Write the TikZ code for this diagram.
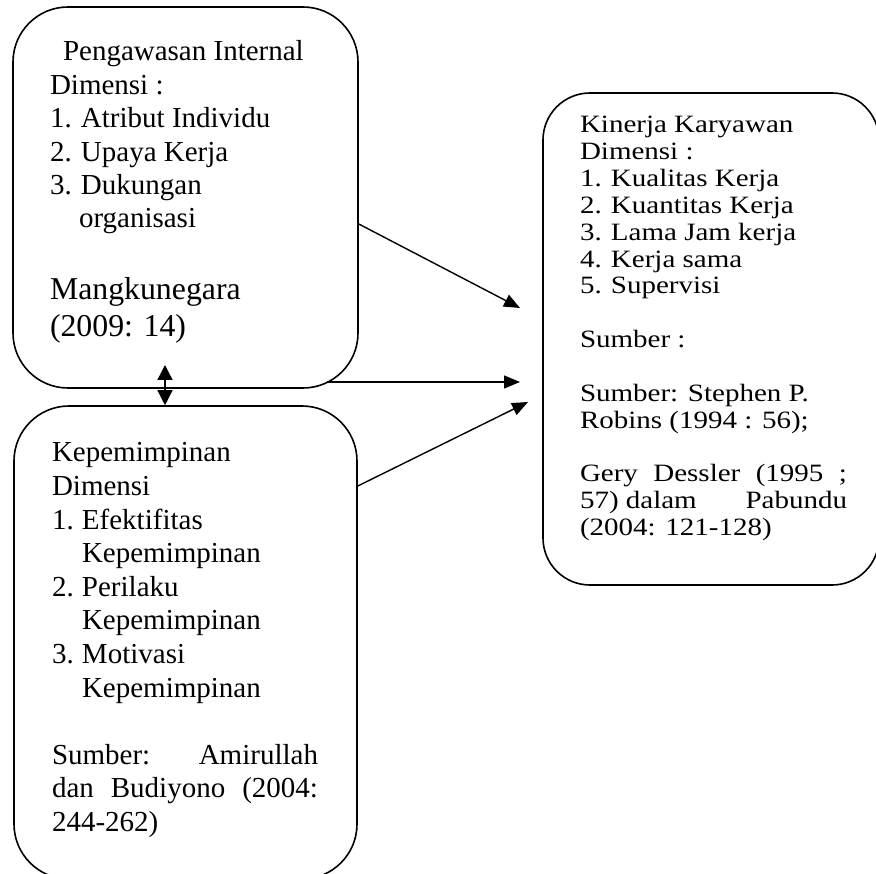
\documentclass[tikz,border=0pt]{standalone}
\usepackage{fontspec}
\setmainfont{Liberation Serif}
\usepackage{graphicx}
\usetikzlibrary{arrows.meta}
\tikzset{
  boxnode/.style={draw, line width=1.6pt, inner sep=0pt, rounded corners=#1},
  conn/.style={line width=1.4pt, -{Triangle[length=16pt,width=13pt]}},
  dconn/.style={line width=1.4pt, {Triangle[length=15pt,width=15pt]}-{Triangle[length=15pt,width=15pt]}},
  txt/.style={anchor=base west, inner sep=0pt, outer sep=0pt}
}
\newcommand{\numit}[1]{\makebox[31pt][l]{#1}}
\begin{document}
\begin{tikzpicture}[x=1pt,y=-1pt]
\useasboundingbox (0,0) rectangle (876,874);
% boxes
\node[boxnode=55pt, minimum width=345pt, minimum height=381pt] (box1) at (185.5,197.5) {};
\node[boxnode=55pt, minimum width=343pt, minimum height=473pt] (box2) at (185.5,642.5) {};
\node[boxnode=47pt, minimum width=336pt, minimum height=492pt] (box3) at (711,339) {};
% texts box1
\node[txt] (t1) at (50,61) {\parbox[t]{290pt}{\fontsize{29}{33.4}\selectfont
\hspace*{13pt}Pengawasan Internal\\
Dimensi :\\
\numit{1.}Atribut Individu\\
\numit{2.}Upaya Kerja\\
\numit{3.}Dukungan\\
\hspace*{29pt}organisasi}};
\node[txt] (t1b) at (50,300) {\parbox[t]{290pt}{\fontsize{31.8}{37}\selectfont
Mangkunegara\\
(2009: 14)}};
% texts box2
\node[txt] (t2) at (52,462) {\parbox[t]{266pt}{\fontsize{29}{33.6}\selectfont
Kepemimpinan\\
Dimensi\\
\makebox[30pt][l]{1.}Efektifitas\\
\hspace*{30pt}Kepemimpinan\\
\makebox[30pt][l]{2.}Perilaku\\
\hspace*{30pt}Kepemimpinan\\
\makebox[30pt][l]{3.}Motivasi\\
\hspace*{30pt}Kepemimpinan\\
\mbox{}\\
\makebox[266pt][s]{Sumber: Amirullah}\\
\makebox[266pt][s]{dan Budiyono (2004:}\\
244-262)}};
% texts box3
\node[txt] (t3) at (580,133) {\scalebox{1}[0.86]{\parbox[t]{267pt}{\fontsize{29}{31.2}\selectfont
Kinerja Karyawan\\
Dimensi :\\
\numit{1.}Kualitas Kerja\\
\numit{2.}Kuantitas Kerja\\
\numit{3.}Lama Jam kerja\\
\numit{4.}Kerja sama\\
\numit{5.}Supervisi\\
\mbox{}\\
Sumber :\\
\mbox{}\\
Sumber: Stephen P.\\
Robins (1994 : 56);\\
\mbox{}\\
\makebox[267pt][s]{Gery Dessler (1995 ;}\\
\hbox to 267pt{57) dalam\hfill Pabundu}\\
(2004: 121-128)}}};
% connector end points
\coordinate (e1) at (520,308);
\coordinate (e2) at (520,382);
\coordinate (e3) at (528,402);
\coordinate (s2) at (327,382);
\coordinate (d1) at (165,365);
% connectors
\draw[conn] ([yshift=-26.5pt]box1.east) -- (e1);
\draw[conn] (s2) -- (e2);
\draw[conn] ([yshift=156.5pt]box2.east) -- (e3);
\draw[dconn] (d1) -- (d1 |- box2.north);
\end{tikzpicture}
\end{document}
